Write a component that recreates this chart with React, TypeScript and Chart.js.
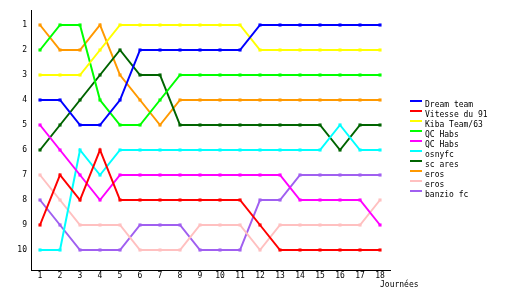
import React, { useEffect, useRef } from "react";
import { Chart, registerables } from "chart.js";

Chart.register(...registerables);

const days = [1, 2, 3, 4, 5, 6, 7, 8, 9, 10, 11, 12, 13, 14, 15, 16, 17, 18];
const rankTicks = [1, 2, 3, 4, 5, 6, 7, 8, 9, 10];
const xTitle = "Journées";

const teamNames = [
  "Dream team",
  "Vitesse du 91",
  "Kiba Team/63",
  "QC Habs",
  "QC Habs",
  "osnyfc",
  "sc ares",
  "eros",
  "eros",
  "banzio fc",
];

const teamColors = [
  "#0000ff",
  "#ff0000",
  "#ffff00",
  "#00ff00",
  "#ff00ff",
  "#00ffff",
  "#006400",
  "#ff9900",
  "#ffc0c0",
  "#a05ff0",
];

const dreamTeam = [4, 4, 5, 5, 4, 2, 2, 2, 2, 2, 2, 1, 1, 1, 1, 1, 1, 1];
const vitesse91 = [9, 7, 8, 6, 8, 8, 8, 8, 8, 8, 8, 9, 10, 10, 10, 10, 10, 10];
const kibaTeam = [3, 3, 3, 2, 1, 1, 1, 1, 1, 1, 1, 2, 2, 2, 2, 2, 2, 2];
const qcHabsA = [2, 1, 1, 4, 5, 5, 4, 3, 3, 3, 3, 3, 3, 3, 3, 3, 3, 3];
const qcHabsB = [5, 6, 7, 8, 7, 7, 7, 7, 7, 7, 7, 7, 7, 8, 8, 8, 8, 9];
const osnyfc = [10, 10, 6, 7, 6, 6, 6, 6, 6, 6, 6, 6, 6, 6, 6, 5, 6, 6];
const scAres = [6, 5, 4, 3, 2, 3, 3, 5, 5, 5, 5, 5, 5, 5, 5, 6, 5, 5];
const erosA = [1, 2, 2, 1, 3, 4, 5, 4, 4, 4, 4, 4, 4, 4, 4, 4, 4, 4];
const erosB = [7, 8, 9, 9, 9, 10, 10, 10, 9, 9, 9, 10, 9, 9, 9, 9, 9, 8];
const banzioFc = [8, 9, 10, 10, 10, 9, 9, 9, 10, 10, 10, 8, 8, 7, 7, 7, 7, 7];

const seriesValues = [
  dreamTeam,
  vitesse91,
  kibaTeam,
  qcHabsA,
  qcHabsB,
  osnyfc,
  scAres,
  erosA,
  erosB,
  banzioFc,
];

const FAMILY = "'DejaVu Sans Mono', monospace";
const FONT = "8px " + FAMILY;

const legendPlugin = {
  id: "customLegend",
  afterDraw(chart: any) {
    const ctx = chart.ctx;
    const area = chart.chartArea;
    ctx.save();
    ctx.font = FONT;
    ctx.textBaseline = "middle";
    ctx.textAlign = "left";
    chart.data.datasets.forEach((ds: any, i: number) => {
      const y = area.top + 94.5 + i * 10;
      ctx.fillStyle = ds.borderColor;
      ctx.fillRect(area.right + 20, y - 4.5, 12, 2);
      ctx.fillStyle = "#000";
      ctx.fillText(ds.label, area.right + 35, y);
    });
    ctx.fillStyle = "#000";
    ctx.fillText(xTitle, area.right - 10, area.bottom + 14.5);
    ctx.restore();
  },
};

export default function App() {
  const canvasRef = useRef<HTMLCanvasElement | null>(null);

  useEffect(() => {
    if (!canvasRef.current) return;
    const datasets = seriesValues.map((vals, i) => ({
      label: teamNames[i],
      data: days.map((d, j) => ({ x: d, y: vals[j] })),
      borderColor: teamColors[i],
      backgroundColor: teamColors[i],
      borderWidth: 2,
      pointStyle: "rect",
      pointRadius: 2.2,
      pointBorderWidth: 0,
      pointHoverRadius: 2.2,
      tension: 0,
      fill: false,
    }));

    const chart = new Chart(canvasRef.current, {
      type: "line",
      data: { datasets },
      plugins: [legendPlugin],
      options: {
        animation: false,
        responsive: false,
        maintainAspectRatio: false,
        layout: { padding: { top: 10, right: 140, left: 0, bottom: 0 } },
        plugins: {
          legend: { display: false },
          tooltip: { enabled: false },
          title: { display: false },
        },
        scales: {
          x: {
            type: "linear",
            min: 0.55,
            max: 18.5,
            grid: { display: false, drawTicks: false, tickLength: 0 },
            border: { display: true, color: "#000", width: 1 },
            afterBuildTicks: (scale: any) => {
              scale.ticks = days.map((v) => ({ value: v }));
            },
            afterFit: (scale: any) => {
              scale.height = 30;
            },
            ticks: {
              color: "#000",
              font: { family: FAMILY, size: 8 },
              padding: 1,
              maxRotation: 0,
              autoSkip: false,
            },
          },
          y: {
            type: "linear",
            reverse: true,
            min: 0.4,
            max: 10.8,
            grid: { display: false, drawTicks: false, tickLength: 0 },
            border: { display: true, color: "#000", width: 1 },
            afterBuildTicks: (scale: any) => {
              scale.ticks = rankTicks.map((v) => ({ value: v }));
            },
            afterFit: (scale: any) => {
              scale.width = 31;
            },
            ticks: {
              color: "#000",
              font: { family: FAMILY, size: 8 },
              padding: 4,
              autoSkip: false,
            },
          },
        },
      },
    } as any);
    return () => chart.destroy();
  }, []);

  return (
    <div style={{ position: "fixed", left: 0, top: 0, width: 530, height: 300, background: "#fff" }}>
      <canvas ref={canvasRef} width={530} height={300} style={{ display: "block", width: 530, height: 300 }} />
    </div>
  );
}
